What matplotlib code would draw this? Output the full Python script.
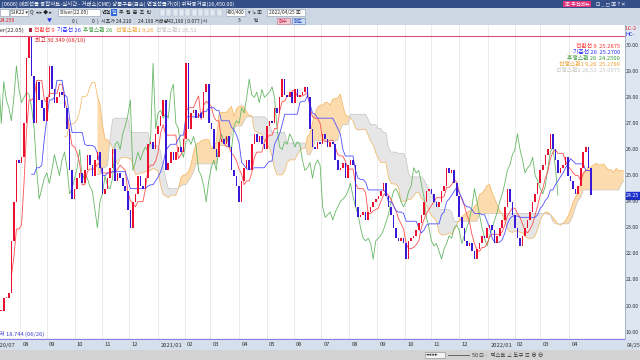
import numpy as np
import pandas as pd
import matplotlib
matplotlib.use('Agg')
import matplotlib.pyplot as plt
from matplotlib.patches import Rectangle

plt.rcParams['font.family'] = ['Noto Sans CJK KR', 'DejaVu Sans']

# Silver(22.05) daily chart, read as 2-day bars (2020/07/09 ~ 2022/04/25)
close_jul20_dec20 = [19.8, 20.3, 20.3, 20.5, 22.5, 24.0, 25.6, 25.5, 25.7, 27.0,
                     29.5, 30.3, 28.8, 27.0, 28.6, 27.9, 27.6, 27.1, 28.0, 29.2,
                     28.3, 27.8, 28.0, 28.2, 28.1, 27.6, 26.8, 25.2, 24.1, 24.5,
                     24.9, 25.1, 24.7, 25.2, 25.8, 25.4, 25.0, 25.6, 25.9, 25.3,
                     24.3, 24.5, 24.9, 25.3, 26.0, 24.8, 25.1, 24.9, 24.6, 24.4,
                     23.7, 23.0, 24.0, 24.3, 25.0, 24.6, 24.5, 24.9, 26.2]
close_dec20_jun21 = [26.3, 26.0, 26.6, 26.9, 27.3, 27.9, 25.2, 25.5, 25.9, 25.6,
                     25.9, 26.1, 25.9, 26.4, 29.3, 26.8, 27.4, 27.5, 27.2, 27.4,
                     27.2, 28.2, 28.5, 27.0, 26.8, 26.0, 25.7, 26.3, 26.4, 26.2,
                     26.5, 26.1, 25.2, 25.0, 24.6, 24.0, 24.8, 25.3, 25.6, 25.2,
                     26.2, 26.6, 26.3, 26.5, 26.2, 26.0, 26.9, 27.1, 27.0, 27.6,
                     27.4, 28.0, 28.7, 28.1, 28.0, 28.2, 27.8, 28.3, 28.0, 28.1]
close_jun21_nov21 = [28.2, 28.4, 28.0, 26.8, 26.1, 26.0, 26.3, 26.2, 26.6, 26.4,
                     26.1, 26.3, 26.2, 25.6, 25.2, 25.3, 25.5, 24.9, 25.4, 25.6,
                     25.4, 23.8, 23.4, 23.5, 23.6, 23.3, 23.6, 23.8, 24.0, 24.1,
                     24.2, 24.4, 24.7, 24.2, 23.8, 23.5, 23.0, 22.6, 22.5, 22.6,
                     22.4, 21.8, 22.5, 22.6, 22.7, 22.9, 23.2, 23.5, 24.0, 24.4,
                     24.5, 24.3, 24.0, 23.8, 24.0, 24.4, 24.6, 25.3, 25.1]
close_nov21_apr22 = [25.2, 24.7, 24.2, 23.4, 23.0, 22.5, 22.3, 22.4, 22.1, 21.8,
                     22.2, 22.4, 22.7, 22.6, 23.0, 23.1, 22.9, 22.4, 22.7, 23.0,
                     23.3, 23.8, 24.5, 24.0, 23.5, 23.0, 22.6, 22.3, 22.7, 23.0,
                     23.3, 23.6, 24.0, 24.3, 24.7, 25.2, 25.4, 25.8, 26.0, 26.6,
                     26.0, 25.6, 25.1, 25.3, 25.4, 25.7, 25.0, 24.8, 24.5, 24.3,
                     24.6, 25.3, 25.9, 26.1, 25.3, 24.25]

high_mark = 30.349
low_mark = 18.744
price_ticks = [30, 29, 28, 27, 26, 25, 24, 23, 22, 21, 20, 19]

closes = np.array(close_jul20_dec20 + close_dec20_jun21 + close_jun21_nov21 + close_nov21_apr22)
start_day = np.datetime64('2020-07-09')
n = len(closes)
x = np.arange(n)

opens = np.r_[closes[0], closes[:-1]]
highs = pd.Series(np.maximum(opens, closes))
lows = pd.Series(np.minimum(opens, closes))


def midline(p):
    return ((highs.rolling(p).max() + lows.rolling(p).min()) / 2).values


# ichimoku on 2-day bars (9/26/52 days -> 5/13/26 bars)
shift = 13
tenkan = midline(5)
kijun = midline(13)
span_a = np.r_[np.full(shift, np.nan), (tenkan + kijun) / 2]
span_b = np.r_[np.full(shift, np.nan), midline(26)]
xs = np.arange(n + shift)

W, H = 640, 360
fig = plt.figure(figsize=(6.4, 3.6), dpi=100)


def box(x0, y0, x1, y1, color, **kw):
    fig.patches.append(Rectangle((x0 / W, 1 - y1 / H), (x1 - x0) / W, (y1 - y0) / H,
                                 transform=fig.transFigure, facecolor=color, **kw))


def txt(px, py, s, size=4.2, color='#222222', **kw):
    fig.text(px / W, 1 - py / H, s, fontsize=size, color=color, va='center', **kw)


ax = fig.add_axes([0, 1 - 340 / H, 625 / W, 315 / H])
ax.set_xlim(-0.5, 246.5)
ax.set_ylim(18.70, 30.77)
ax.axis('off')

# month gridlines
months = pd.date_range('2020-07-01', '2022-04-01', freq='MS')
month_pos = []
for m in months:
    d = np.busday_count(start_day, np.datetime64(m.date()))
    month_pos.append((d - 1) / 2 - 0.5)
for p in month_pos:
    ax.axvline(p, color='#e8e8e8', lw=0.6, zorder=0)

ax.axhline(high_mark, color='#e0507a', lw=0.8, zorder=1)
ax.axhline(low_mark, color='#8a7ee0', lw=0.9, zorder=1)

# cloud
ax.fill_between(xs, span_a, span_b, where=span_a >= span_b, interpolate=True,
                color='#fcdcae', lw=0, zorder=1)
ax.fill_between(xs, span_a, span_b, where=span_a < span_b, interpolate=True,
                color='#e6e6e6', lw=0, zorder=1)
ax.plot(xs, span_a, color='#f3b35c', lw=0.5, zorder=2)
ax.plot(xs, span_b, color='#c4c4c4', lw=0.5, zorder=2)
ax.plot(x - shift, closes, color='#66b866', lw=0.6, zorder=2)
ax.plot(x, tenkan, color='#ff5050', lw=0.6, zorder=3)
ax.plot(x, kijun, color='#5050ff', lw=0.6, zorder=3)

up = closes >= opens
body = np.maximum(np.abs(closes - opens), 0.05)
ax.bar(x, body, bottom=np.minimum(opens, closes), width=0.62,
       color=np.where(up, '#ec1030', '#3a18d8'), lw=0, zorder=4)

# legend row and marks
txt(-9, 30, 'Silver(22.05)', color='#333333')
box(29, 28, 32, 32, '#aa2244')
txt(34, 30, '전환선 9', color='#ff3030')
txt(57, 30, '기준선 26', color='#3030ff')
txt(83, 30, '후행스팬 26', color='#3a9a3a')
txt(116, 30, '선행스팬1 9,26', color='#f0a030')
txt(156, 30, '선행스팬2 26,52', color='#c0c0c0')
txt(35, 40, '최고 30.349 (08/10)', color='#e02020')
txt(-6, 334, '최저 18.744 (06/26)', color='#4040d0')

right_lines = [('전환선 9  25.2875', '#ff3030'), ('기준선 26  25.2700', '#3030ff'),
               ('후행스팬 26  24.2500', '#3a9a3a'), ('선행스팬1 9,26  25.2788', '#f0a030'),
               ('선행스팬2 26,52  25.0075', '#c8c8c8')]
for k, (s, c) in enumerate(right_lines):
    txt(620, 46 + k * 6, s, color=c, ha='right')

# right price strip
axr = fig.add_axes([625 / W, 1 - 340 / H, 15 / W, 315 / H], sharey=ax)
axr.set_facecolor('#dde6f1')
axr.set_xticks([])
axr.tick_params(left=False, labelleft=False)
for sp in axr.spines.values():
    sp.set_visible(False)
axr.spines['left'].set_visible(True)
axr.spines['left'].set_color('#9aa8bc')
axr.spines['left'].set_linewidth(0.6)
for v in price_ticks:
    axr.text(0.06, v, f'{v:.2f}', fontsize=3.8, color='#333333', va='center',
             transform=axr.get_yaxis_transform())
axr.axhspan(closes[-1] - 0.13, closes[-1] + 0.13, color='#1c2fd0')
axr.text(0.06, closes[-1], f'{closes[-1]:.2f}', fontsize=3.8, color='white', va='center',
         transform=axr.get_yaxis_transform())
txt(626, 29, 'LC-2', color='#e02020', size=3.9)
txt(626, 35, 'HC-', color='#2030e0', size=3.9)

# bottom date strip
axb = fig.add_axes([0, 1 - 350 / H, 1, 10 / H])
axb.set_facecolor('#d6e0ec')
axb.set_xlim(-0.5, -0.5 + 247 * 640 / 625)
axb.set_ylim(0, 1)
axb.set_xticks([])
axb.set_yticks([])
for sp in axb.spines.values():
    sp.set_visible(False)
for m, p in zip(months, month_pos):
    lab = f'{m.year}/{m.month:02d}' if (m.month == 1 or p == month_pos[0]) else f'{m.month:02d}'
    axb.text(p + 0.9, 0.5, lab, fontsize=4.2, color='#333333', va='center')
axb.text(0.979, 0.5, '04/25', fontsize=3.8, color='#333333', va='center',
         transform=axb.transAxes)

# status bar
box(0, 350, 640, 360, '#d2d2d2')
box(425, 352, 445, 358, '#f4f4f4', edgecolor='#888888', lw=0.4)
txt(426, 355, '◂◂ ▸▸', size=3.8, color='#333333')
box(448, 354.5, 470, 355.5, '#666666')
txt(472, 355, '50 ⊡ ·  텍스트 ∠ 도구 ≡ ⊕ ⊖', size=3.9, color='#333333')

# window header
box(0, 0, 640, 8, '#344f88')
txt(2, 4, '[0606] 해외선물 종합차트-실시간 - 거래소(CME) 상품구분(금속) 연결선물가(이) 위탁증거금(16,450.00)',
    color='white', size=3.9)
box(563, 1, 591, 7, '#e0307a')
txt(565, 4, '▣ 추천메뉴', color='white', size=3.6)
txt(596, 4, '⊡ _ ◻ ▣ ? ✕', color='white', size=3.8)

box(0, 8, 640, 25, '#cdd6e3')
box(0, 9, 9, 16, 'white', edgecolor='#8a98ad', lw=0.4)
box(10, 9, 28, 16, 'white', edgecolor='#8a98ad', lw=0.4)
txt(11, 12.5, 'SIK22 ▾', size=3.6)
txt(30, 12.5, 'Q  ◂ ▸ ◆ ▸', size=3.6)
box(58, 9, 100, 16, 'white', edgecolor='#8a98ad', lw=0.4)
txt(60, 12.5, 'Silver(22.05)', size=3.6)
txt(102, 12.5, '연결', size=3.6)
box(111, 9, 117, 16, '#2f6ad8')
txt(112, 12.5, '일', size=3.6, color='white')
txt(119, 12.5, '주  월  분  초  틱', size=3.6)
for k in range(10):
    box(160 + k * 6.3, 9.5, 165 + k * 6.3, 15.5, '#e4e9f0', edgecolor='#a8b3c4', lw=0.3)
box(226, 9, 245, 16, 'white', edgecolor='#8a98ad', lw=0.4)
txt(227, 12.5, '400/400', size=3.4)
txt(248, 12.5, '▾ ↘ ▣', size=3.4)
box(267, 9, 305, 16, 'white', edgecolor='#8a98ad', lw=0.4)
txt(269, 12.5, '2022/04/25 ▣', size=3.5)

txt(0, 21, '24.250', size=3.6, color='#e02020')
txt(47, 21, '▼', size=3.6, color='#2030e0')
txt(72, 21, '0 (', size=3.6)
txt(92, 21, '0  )  시초가 24.210', size=3.6)
txt(138, 21, '24.190 거래량', size=3.6)
txt(168, 21, '42,190 ( 0.077 )시', size=3.6)
txt(238, 21, '3', size=3.6)
txt(253, 21, '틱', size=3.6)
box(277, 18, 290, 24, '#f4c9d6', edgecolor='#c0708a', lw=0.4)
txt(279, 21, '매수', size=3.5, color='#c02040')
box(292, 18, 305, 24, '#c8dcf4', edgecolor='#6080c0', lw=0.4)
txt(294, 21, '매도', size=3.5, color='#2040c0')

fig.savefig('out.png', dpi=100)
